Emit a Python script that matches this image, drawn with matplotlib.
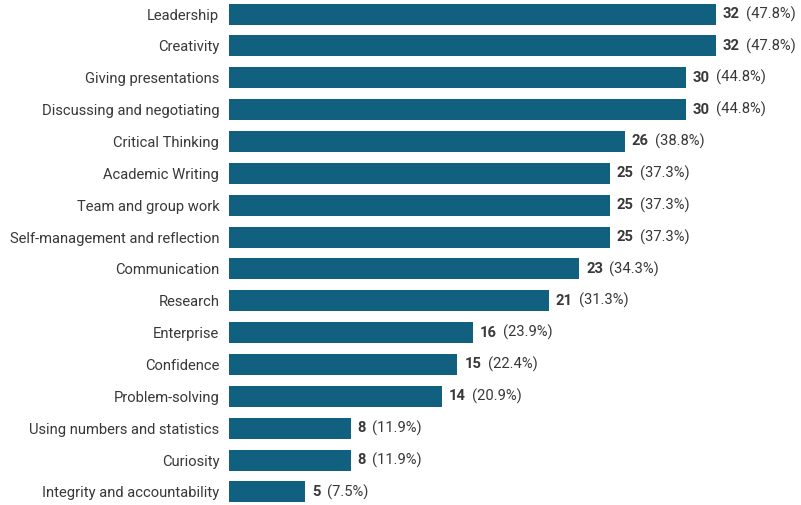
import matplotlib.pyplot as plt

skills = [
    "Leadership",
    "Creativity",
    "Giving presentations",
    "Discussing and negotiating",
    "Critical Thinking",
    "Academic Writing",
    "Team and group work",
    "Self-management and reflection",
    "Communication",
    "Research",
    "Enterprise",
    "Confidence",
    "Problem-solving",
    "Using numbers and statistics",
    "Curiosity",
    "Integrity and accountability",
]
counts = [32, 32, 30, 30, 26, 25, 25, 25, 23, 21, 16, 15, 14, 8, 8, 5]
percents = [47.8, 47.8, 44.8, 44.8, 38.8, 37.3, 37.3, 37.3, 34.3, 31.3,
            23.9, 22.4, 20.9, 11.9, 11.9, 7.5]

BAR_COLOR = "#11607f"
TEXT_COLOR = "#383838"
FS = 10.6

plt.rcParams["font.family"] = ["Roboto", "DejaVu Sans"]

fig = plt.figure(figsize=(8.01, 5.05), dpi=100)
ax = fig.add_axes([229 / 801, 0, 1 - 229 / 801, 1])

ypos = list(range(len(skills)))
ax.barh(ypos, counts, height=0.66, color=BAR_COLOR)

ax.set_xlim(0, 37.58)
ax.set_ylim(15.41, -0.44)
ax.set_yticks(ypos)
ax.set_yticklabels(skills, fontsize=FS, color=TEXT_COLOR)
ax.tick_params(axis="y", length=0, pad=7)
ax.set_xticks([])
for side in ax.spines.values():
    side.set_visible(False)

for y, n, p in zip(ypos, counts, percents):
    num = ax.annotate(str(n), xy=(n, y), xytext=(5, 0), textcoords="offset points",
                      ha="left", va="center", fontsize=FS, fontweight="bold",
                      color=TEXT_COLOR)
    ax.annotate(f"({p}%)", xy=(1, 0.5), xycoords=num, xytext=(4.5, 0),
                textcoords="offset points", ha="left", va="center",
                fontsize=FS, color=TEXT_COLOR)

fig.savefig("out.png", dpi=100)
